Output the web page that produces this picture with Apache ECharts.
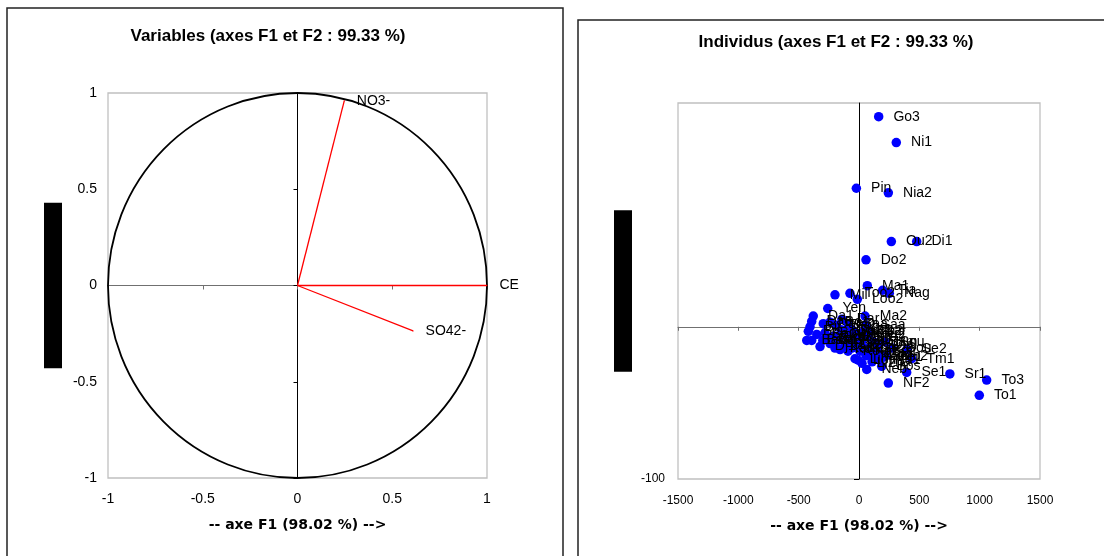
<!DOCTYPE html>
<html><head><meta charset="utf-8">
<script src="https://cdn.jsdelivr.net/npm/echarts@6/dist/echarts.min.js"></script>
<style>html,body{margin:0;padding:0;background:#fff}#c{width:1104px;height:556px}</style>
</head><body><div id="c"></div><script>
// ---------- Data ----------
const leftTitle = 'Variables (axes F1 et F2 : 99.33 %)';
const rightTitle = 'Individus (axes F1 et F2 : 99.33 %)';
const xName = '-- axe F1 (98.02 %) -->';
const yName = '-- axe F2 (1.31 %) -->';

const varNames = ['CE', 'NO3-', 'SO42-'];
const varF1 = [1.0, 0.247, 0.61];
const varF2 = [0.0, 0.96, -0.236];
const circleRadius = [1];

const leftTicks = [-1, -0.5, 0, 0.5, 1];
const rightXTicks = [-1500, -1000, -500, 0, 500, 1000, 1500];
const rightYTicks = [-100];

const indNames = ['Go3','Ni1','Pin','Nia2','Ou2','Di1','Do2','Ma1','Tia','Nag','Mil','Too2','Loo2','Yen','Da1','Ma2','Saa',
  'Dao','Bir','Bis','Bak','Bsa','Dj1','Dan','Bou','Kab','Kol','Kou','Lin','Lou','Neb','Bos','NF2','Se1','Tm1','Se2','Sr1','To3','To1',
  'Bo1','Ba2','Dar','Sea','Ka1','Kou2','Ta2','Sam','Dia','Squ','Sou','Bis2','Bi2','Dj2','Ka2','Ko2','Mbo','Lo2','Nd1','Mb2','Tha','Li2','Bam','Dak','Ker',
  'Gu1','Dj3','Ga1','Kb1','Ko1','Sa2','Ma3','Bo2','Pe1','Kd1','Tb2','Sal','Bd1','Ba3','Be1'];
const indF1 = [163,309,-22,243,268,478,58,69,196,251,-199,-75,-14,-259,-379,50,58,
  -392,-406,-420,-433,-392,-323,-296,-282,-199,-157,-91,-33,-6,64,188,243,395,437,398,753,1058,997,
  -240,-191,-141,-91,-58,-8,75,124,157,215,273,-174,-240,-116,-58,8,58,124,174,224,108,25,-91,-133,-207,
  -150,-110,-60,-20,20,70,100,150,200,-30,40,90,-250,-300,-350];
const indF2 = [138,121,91,88,56,56,44,27,24,22,21,22,18,12,7,7,1,
  3.5,0,-3,-9,-9,-13,2,-4,-14,-15,-16,-21,-22,-28,-26,-37,-30,-21,-15,-31,-35,-45,
  3,1,5,2,-2,-5,-7,-10,-12,-10,-14,-9,-11,-12,-14,-16,-19,-19,-22,-19,-23,-24,-7,-3,-6,
  -2,-6,-9,-12,-10,-14,-17,-16,-20,-4,-3,-3,-7,-9,-5];

// ---------- Chart ----------
const FONT = "'Liberation Sans', Arial, sans-serif";
const chart = echarts.init(document.getElementById('c'), null, {renderer: 'canvas'});

function fmt(v) { return String(v); }

const barName = (padH) => ({
  color: '#000', backgroundColor: '#000', fontSize: 11, fontFamily: FONT,
  lineHeight: 18, padding: [0, padH, 0, padH]
});
const axisNameStyle = {color: '#000', fontSize: 14, fontWeight: 'bold', fontFamily: "'DejaVu Sans', sans-serif"};

const series = [];
// correlation circle
series.push({
  type: 'custom', xAxisIndex: 0, yAxisIndex: 0, silent: true, z: 2,
  data: circleRadius.map(r => [0, 0, r]),
  renderItem: function (params, api) {
    const c = api.coord([api.value(0), api.value(1)]);
    const s = api.size([1, 1]);
    const rx = s[0] * api.value(2), ry = s[1] * api.value(2);
    return {
      type: 'path',
      shape: {pathData: 'M0,1A1,1,0,1,0,2,1A1,1,0,1,0,0,1Z', x: c[0] - rx, y: c[1] - ry, width: 2 * rx, height: 2 * ry, layout: 'cover'},
      style: {fill: 'none', stroke: '#000', lineWidth: 1.8}
    };
  }
});
// vectors
varNames.forEach((n, i) => {
  series.push({
    type: 'line', xAxisIndex: 0, yAxisIndex: 0, symbol: 'none', silent: true, z: 3,
    lineStyle: {color: '#ff0000', width: 1.3},
    data: [[0, 0], [varF1[i], varF2[i]]]
  });
});
series.push({
  type: 'scatter', xAxisIndex: 0, yAxisIndex: 0, symbolSize: 1, silent: true, z: 4,
  itemStyle: {color: '#ff0000', opacity: 1},
  label: {show: true, position: 'right', distance: 12, color: '#000', opacity: 1, fontSize: 14, fontFamily: FONT,
    formatter: p => p.data[2]},
  data: varNames.map((n, i) => [varF1[i], varF2[i], n])
});
// individuals
series.push({
  type: 'scatter', xAxisIndex: 2, yAxisIndex: 2, symbolSize: 9.5, z: 4,
  itemStyle: {color: '#0000ff', opacity: 1},
  label: {show: true, position: 'right', distance: 10, color: '#000', fontSize: 14, fontFamily: FONT,
    formatter: p => p.data[2]},
  data: indNames.map((n, i) => [indF1[i], indF2[i], n])
});

const option = {
  animation: false,
  backgroundColor: '#fff',
  grid: [
    {left: 108, top: 93, width: 379, height: 385, show: true, borderColor: '#c0c0c0', borderWidth: 1.3, containLabel: false, outerBoundsMode: 'none'},
    {left: 678, top: 103, width: 362, height: 376, show: true, borderColor: '#c0c0c0', borderWidth: 1.3, containLabel: false, outerBoundsMode: 'none'}
  ],
  xAxis: [
    {gridIndex: 0, type: 'value', min: leftTicks[0], max: leftTicks[leftTicks.length - 1], interval: 0.5, position: 'bottom',
      axisLine: {show: false, onZero: false}, axisTick: {show: false}, splitLine: {show: false},
      axisLabel: {fontSize: 14, color: '#000', margin: 14, fontFamily: FONT, formatter: fmt, customValues: leftTicks},
      name: xName, nameLocation: 'middle', nameGap: 40, nameTextStyle: axisNameStyle},
    {gridIndex: 0, type: 'value', min: -1, max: 1, interval: 0.5, position: 'bottom',
      axisLine: {show: true, onZero: true, lineStyle: {color: '#707070', width: 1}},
      axisTick: {show: true, length: 4, lineStyle: {color: '#707070'}}, axisLabel: {show: false}, splitLine: {show: false}},
    {gridIndex: 1, type: 'value', min: rightXTicks[0], max: rightXTicks[rightXTicks.length - 1], interval: 500, position: 'bottom',
      axisLine: {show: false, onZero: false}, axisTick: {show: false}, splitLine: {show: false},
      axisLabel: {fontSize: 12, color: '#000', margin: 16, fontFamily: FONT, formatter: fmt, customValues: rightXTicks},
      name: xName, nameLocation: 'middle', nameGap: 40, nameTextStyle: axisNameStyle},
    {gridIndex: 1, type: 'value', min: -1500, max: 1500, interval: 500, position: 'bottom',
      axisLine: {show: true, onZero: true, lineStyle: {color: '#707070', width: 1}},
      axisTick: {show: true, length: 4, lineStyle: {color: '#707070'}}, axisLabel: {show: false}, splitLine: {show: false}}
  ],
  yAxis: [
    {gridIndex: 0, type: 'value', min: -1, max: 1, interval: 0.5, position: 'left',
      axisLine: {show: false, onZero: false}, axisTick: {show: false}, splitLine: {show: false},
      axisLabel: {fontSize: 14, color: '#000', margin: 11, fontFamily: FONT, formatter: fmt, customValues: leftTicks},
      name: yName, nameLocation: 'middle', nameRotate: 90, nameGap: 46, nameTextStyle: barName(30)},
    {gridIndex: 0, type: 'value', min: -1, max: 1, interval: 0.5, position: 'left',
      axisLine: {show: true, onZero: true, lineStyle: {color: '#000', width: 1}},
      axisTick: {show: true, length: 4, lineStyle: {color: '#000'}}, axisLabel: {show: false}, splitLine: {show: false}},
    {gridIndex: 1, type: 'value', min: -100, max: 147, position: 'left',
      axisLine: {show: false, onZero: false}, axisTick: {show: false}, splitLine: {show: false},
      axisLabel: {fontSize: 12, color: '#000', margin: 13, fontFamily: FONT, formatter: fmt, customValues: rightYTicks},
      name: yName, nameLocation: 'middle', nameRotate: 90, nameGap: 46, nameTextStyle: barName(28)},
    {gridIndex: 1, type: 'value', min: -100, max: 147, position: 'left',
      axisLine: {show: true, onZero: true, lineStyle: {color: '#000', width: 1}},
      axisTick: {show: true, length: 5, customValues: rightYTicks, lineStyle: {color: '#000'}}, axisLabel: {show: false}, splitLine: {show: false}}
  ],
  graphic: [
    {type: 'rect', shape: {x: 7, y: 8, width: 556, height: 600}, style: {fill: 'none', stroke: '#222', lineWidth: 1.5}, silent: true, z: 0},
    {type: 'rect', shape: {x: 578, y: 20, width: 600, height: 600}, style: {fill: 'none', stroke: '#222', lineWidth: 1.5}, silent: true, z: 0},
    {type: 'text', x: 268, y: 36, style: {text: leftTitle, fill: '#000', font: "bold 17px 'Liberation Sans', Arial, sans-serif", align: 'center', verticalAlign: 'middle'}, silent: true},
    {type: 'text', x: 836, y: 42, style: {text: rightTitle, fill: '#000', font: "bold 17px 'Liberation Sans', Arial, sans-serif", align: 'center', verticalAlign: 'middle'}, silent: true}
  ],
  series: series
};
chart.setOption(option);
</script></body></html>
